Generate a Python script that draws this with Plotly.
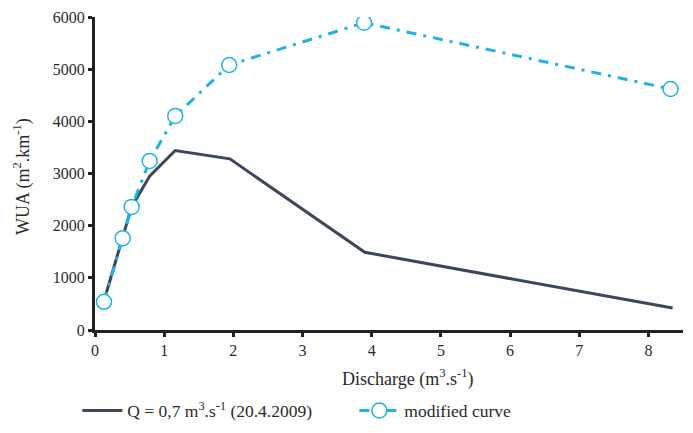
import plotly.graph_objects as go

# Discharge (m3/s) and weighted usable area (m2/km)
q_measured = [0.13, 0.40, 0.53, 0.79, 1.16, 1.95, 3.90, 8.35]
wua_measured = [560, 1760, 2360, 2950, 3440, 3280, 1490, 420]

q_modified = [0.13, 0.40, 0.53, 0.79, 1.16, 1.94, 3.89, 8.32]
wua_modified = [540, 1760, 2360, 3240, 4100, 5080, 5890, 4620]

x_ticks = [0, 1, 2, 3, 4, 5, 6, 7, 8]
y_ticks = [0, 1000, 2000, 3000, 4000, 5000, 6000]

FONT = "Liberation Serif, DejaVu Serif, serif"
DARK = "#3c4859"
CYAN = "#1eb3e3"
TEXT = "#2a2a2a"

fig = go.Figure()
fig.add_trace(go.Scatter(
    x=q_measured, y=wua_measured, mode="lines",
    name="Q = 0,7 m<sup>3</sup>.s<sup>-1</sup> (20.4.2009)",
    line=dict(color=DARK, width=3),
))
fig.add_trace(go.Scatter(
    x=q_modified, y=wua_modified, mode="lines+markers",
    name="modified curve",
    line=dict(color=CYAN, width=3, dash="10px,7px,3px,7px"),
    marker=dict(symbol="circle", size=15, color="white", line=dict(width=1.5, color=CYAN)),
))

axis_common = dict(
    showline=True, linecolor="#222222", linewidth=3,
    ticks="outside", ticklen=4, tickwidth=3, tickcolor="#222222",
    showgrid=False, zeroline=False, automargin=False,
    tickfont=dict(family=FONT, size=16, color=TEXT),
)

fig.update_xaxes(range=[0, 8.5], tickvals=x_ticks, **axis_common)
fig.update_yaxes(range=[0, 6000], tickvals=y_ticks, **axis_common)

# Axis titles placed as paper annotations
fig.add_annotation(
    text="Discharge (m<sup>3</sup>.s<sup>-1</sup>)", xref="paper", yref="paper",
    x=0.532, y=-0.153, xanchor="center", yanchor="middle", showarrow=False,
    font=dict(family=FONT, size=18, color=TEXT),
)
fig.add_annotation(
    text="WUA (m<sup>2</sup>.km<sup>-1</sup>)", xref="paper", yref="paper",
    x=-0.124, y=0.489, xanchor="center", yanchor="middle", showarrow=False,
    textangle=-90, font=dict(family=FONT, size=18, color=TEXT),
)

fig.update_layout(
    width=693, height=433,
    margin=dict(l=95, r=10, t=17, b=103, autoexpand=False),
    paper_bgcolor="white", plot_bgcolor="white",
    font=dict(family=FONT, color=TEXT),
    legend=dict(
        orientation="h", x=-0.03, xanchor="left", y=-0.20, yanchor="top",
        font=dict(family=FONT, size=17.5, color=TEXT),
        itemwidth=40, entrywidth=222,
    ),
)

fig.write_html("out.html")
